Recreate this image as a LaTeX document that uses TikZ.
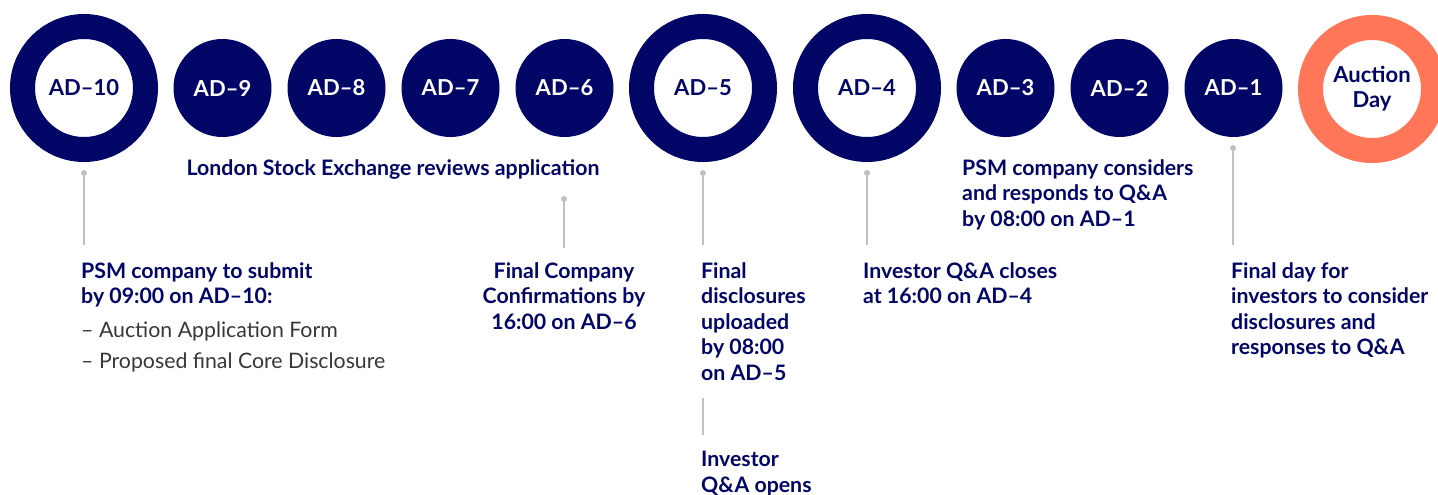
\documentclass[tikz,border=0pt]{standalone}
\usepackage{fontspec}
\setmainfont{Lato}
\definecolor{navy}{RGB}{2,6,102}
\definecolor{coral}{RGB}{255,118,88}
\definecolor{leadgray}{RGB}{192,192,192}
\definecolor{bodygray}{RGB}{55,55,55}
\tikzset{
  dayring/.style={circle, draw=navy, line width=25pt, fill=white, minimum size=123pt, inner sep=0pt,
    text=navy, font=\fontsize{22}{26}\selectfont\bfseries, align=center},
  dayfill/.style={circle, fill=navy, minimum size=98pt, inner sep=0pt,
    text=white, font=\fontsize{22}{26}\selectfont\bfseries},
  leaddot/.style={circle, fill=leadgray, minimum size=6pt, inner sep=0pt},
  lead/.style={draw=leadgray, line width=1.5pt},
  note/.style={text=navy, font=\fontsize{21.3}{25.5}\selectfont\bfseries, inner sep=0pt, align=left, anchor=base west},
  item/.style={text=bodygray, font=\fontsize{21.3}{25.5}\selectfont, inner sep=0pt, anchor=base west}
}
\begin{document}
\begin{tikzpicture}[x=1pt, y=-1pt]
    \useasboundingbox (0,0) rectangle (1438,495);

    % Day circles along the top
    \node[dayring] (ad10) at (84,88) {AD–10};
    \foreach \x/\d in {222.5/9, 336.5/8, 450.5/7, 564.5/6} {
        \node[dayfill] (ad\d) at (\x,88) {AD–\d};
    }
    \node[dayring] (ad5) at (703,88) {AD–5};
    \node[dayring] (ad4) at (867,88) {AD–4};
    \foreach \x/\d in {1005.5/3, 1119.5/2, 1233.5/1} {
        \node[dayfill] (ad\d) at (\x,88) {AD–\d};
    }
    \node[dayring, draw=coral] (auction) at (1372,89) {Auction\\[-1pt]Day};

    % Leader lines
    \node[leaddot] (d10) at (84,173) {};
    \coordinate (e10) at (84,245);
    \node[leaddot] (d6) at (564,199) {};
    \coordinate (e6) at (564,248);
    \node[leaddot] (d5) at (703,173) {};
    \coordinate (e5) at (703,245);
    \coordinate (f5) at (703,398);
    \coordinate (g5) at (703,435);
    \node[leaddot] (d4) at (867,173) {};
    \coordinate (e4) at (867,245);
    \node[leaddot] (d1) at (1233,148) {};
    \coordinate (e1) at (1233,245);
    \foreach \a/\b in {d10/e10, d6/e6, d5/e5, f5/g5, d4/e4, d1/e1} {
        \draw[lead] (\a) -- (\b);
    }

    % Notes (anchored at the baseline of their last line)
    \node[note, anchor=base] (lse) at (393,175) {London Stock Exchange reviews application};
    \node[note] (sub10) at (81,303.5) {PSM company to submit\\by 09:00 on AD–10:};
    \node[item] (form10) at (81,337) {– Auction Application Form};
    \node[item] (core10) at (81,368) {– Proposed final Core Disclosure};
    \node[note, align=center, anchor=base] (conf6) at (564,329) {Final Company\\Confirmations by\\16:00 on AD–6};
    \node[note] (disc5) at (701,380) {Final\\disclosures\\uploaded\\by 08:00\\on AD–5};
    \node[note] (open5) at (701,492) {Investor\\Q\&A opens};
    \node[note] (close4) at (863,303.5) {Investor Q\&A closes\\at 16:00 on AD–4};
    \node[note] (resp1) at (962,226) {PSM company considers\\and responds to Q\&A\\by 08:00 on AD–1};
    \node[note] (final1) at (1231,354.5) {Final day for\\investors to consider\\disclosures and\\responses to Q\&A};
\end{tikzpicture}
\end{document}
